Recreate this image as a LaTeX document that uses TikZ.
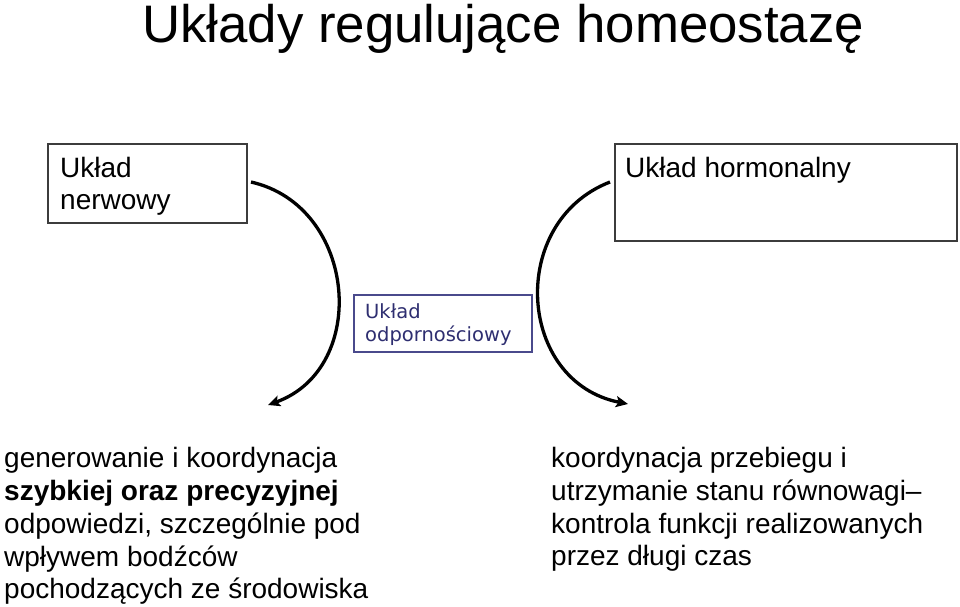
\documentclass[tikz,border=0pt]{standalone}
\usepackage{fontspec}
\setmainfont{Liberation Sans}
\newfontfamily\immfont{DejaVu Sans}
\usetikzlibrary{arrows.meta}
\definecolor{boxgray}{HTML}{3C3C3C}
\definecolor{navyborder}{HTML}{4A4A8C}
\definecolor{navytext}{HTML}{2E2E70}
\tikzset{
  graybox/.style={draw=boxgray, line width=1.4pt, inner sep=0pt},
  navybox/.style={draw=navyborder, line width=1.4pt, inner sep=0pt},
  txt/.style={anchor=base west, inner sep=0pt, font=\fontsize{28}{33}\selectfont},
  immtxt/.style={anchor=base west, inner sep=0pt, text=navytext, font=\immfont\fontsize{19.5}{23}\selectfont},
  titletxt/.style={anchor=base west, inner sep=0pt, font=\fontsize{52.8}{60}\selectfont},
  bigarrow/.style={line width=3.3pt, -{Stealth[length=12pt,width=11pt,inset=2.5pt]}}
}
\begin{document}
\begin{tikzpicture}[x=1pt,y=-1pt]
\useasboundingbox (0,0) rectangle (960,606);
% title
\node[titletxt] (title) at (142,42) {Układy regulujące homeostazę};
% boxes
\node[graybox, minimum width=199pt, minimum height=79pt] (nerv) at (147.5,183.5) {};
\node[txt] (nervA) at (60,177) {Układ};
\node[txt] (nervB) at (60,209) {nerwowy};
\node[graybox, minimum width=342pt, minimum height=97pt] (horm) at (786,192.5) {};
\node[txt] (hormA) at (625,177) {Układ hormonalny};
\node[navybox, minimum width=178pt, minimum height=57pt] (imm) at (443,323.5) {};
\node[immtxt] (immA) at (365,318) {Układ};
\node[immtxt] (immB) at (365,341) {odpornościowy};
% arrows
\coordinate (ls) at (251,182);
\coordinate (le) at (268,405);
\coordinate (rs) at (610,182);
\coordinate (re) at (628,404);
\draw[bigarrow] (ls) .. controls (357,206) and (370,368) .. (le);
\draw[bigarrow] (rs) .. controls (507,222) and (517,382) .. (re);
% left text
\node[txt] (l1) at (4,467) {generowanie i koordynacja};
\node[txt] (l2) at (4,500) {\bfseries szybkiej oraz precyzyjnej};
\node[txt] (l3) at (4,533) {odpowiedzi, szczególnie pod};
\node[txt] (l4) at (4,566) {wpływem bodźców};
\node[txt] (l5) at (4,598) {pochodzących ze środowiska};
% right text
\node[txt] (r1) at (551,467) {koordynacja przebiegu i};
\node[txt] (r2) at (551,500) {utrzymanie stanu równowagi–};
\node[txt] (r3) at (551,533) {kontrola funkcji realizowanych};
\node[txt] (r4) at (551,565) {przez długi czas};
\end{tikzpicture}
\end{document}
